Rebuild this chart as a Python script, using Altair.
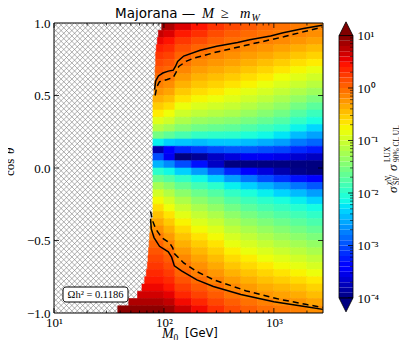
import numpy as np
import pandas as pd
import altair as alt

# ---------------- data ----------------
# cos(theta) row edges, top -> bottom (40 rows of 0.05)
row_edges = [round(1 - 0.05 * i, 2) for i in range(41)]

# left edge (log10 M0) of the filled region for each row, top -> bottom
row_xmin = [1.98, 1.95, 1.94, 1.93, 1.925, 1.925, 1.92, 1.92, 1.915, 1.91,
            1.9, 1.9, 1.9, 1.9, 1.9, 1.9, 1.9, 1.9, 1.9, 1.9,
            1.9, 1.9, 1.9, 1.9, 1.9, 1.9, 1.9, 1.88, 1.875, 1.87,
            1.865, 1.86, 1.855, 1.85, 1.84, 1.825, 1.8, 1.76, 1.68, 1.58]

# right edges (log10 M0) of the columns
col_right = [2.0, 2.1, 2.25, 2.4, 2.55, 2.7, 2.85, 3.0, 3.15, 3.3, 3.45]

# log10(sigma_SI / sigma_LUX) per column, rows top -> bottom
col_A = [0.9, 0.7, 0.52, 0.38, 0.26, 0.16, 0.07, -0.02, -0.12, -0.24, -0.38, -0.53, -0.7, -0.9, -1.15, -1.55, -2.2, -3.8, -3.0, -2.5,
         -2.0, -1.6, -1.25, -0.98, -0.78, -0.62, -0.48, -0.35, -0.22, -0.1, 0.02, 0.1, 0.18, 0.26, 0.34, 0.42, 0.52, 0.65, 0.8, 0.95]
col_B = [0.8, 0.6, 0.45, 0.32, 0.2, 0.1, 0.01, -0.09, -0.2, -0.32, -0.46, -0.62, -0.8, -1.0, -1.28, -1.68, -2.35, -3.4, -3.5, -2.7,
         -2.15, -1.75, -1.42, -1.17, -0.97, -0.8, -0.66, -0.52, -0.39, -0.27, -0.15, -0.04, 0.06, 0.15, 0.24, 0.33, 0.43, 0.56, 0.72, 0.88]
col_C = [0.6, 0.42, 0.26, 0.13, 0.03, -0.06, -0.16, -0.27, -0.39, -0.52, -0.66, -0.82, -1.0, -1.2, -1.45, -1.82, -2.4, -3.2, -4.0, -3.0,
         -2.35, -1.95, -1.65, -1.4, -1.2, -1.03, -0.88, -0.74, -0.61, -0.49, -0.38, -0.27, -0.17, -0.07, 0.02, 0.11, 0.22, 0.35, 0.5, 0.68]
col_D = [0.45, 0.3, 0.15, 0.02, -0.08, -0.18, -0.28, -0.39, -0.5, -0.62, -0.76, -0.92, -1.1, -1.32, -1.58, -1.95, -2.45, -3.1, -3.9, -3.3,
         -2.6, -2.15, -1.85, -1.6, -1.4, -1.22, -1.06, -0.92, -0.78, -0.65, -0.53, -0.42, -0.32, -0.22, -0.12, -0.02, 0.08, 0.2, 0.35, 0.5]
col_E = [0.28, 0.15, 0.04, -0.06, -0.15, -0.25, -0.35, -0.46, -0.57, -0.69, -0.82, -0.98, -1.16, -1.38, -1.63, -1.98, -2.4, -3.0, -3.7, -3.7,
         -2.9, -2.35, -2.0, -1.75, -1.55, -1.37, -1.2, -1.05, -0.91, -0.78, -0.66, -0.55, -0.45, -0.35, -0.25, -0.15, -0.04, 0.07, 0.18, 0.3]
col_F = [0.17, 0.06, -0.03, -0.12, -0.21, -0.31, -0.42, -0.53, -0.65, -0.78, -0.9, -1.05, -1.22, -1.43, -1.68, -2.0, -2.4, -2.95, -3.6, -4.0,
         -3.2, -2.6, -2.2, -1.95, -1.75, -1.56, -1.39, -1.24, -1.1, -0.96, -0.84, -0.72, -0.61, -0.5, -0.39, -0.28, -0.17, -0.06, 0.05, 0.15]
col_G = [0.08, -0.01, -0.08, -0.18, -0.28, -0.38, -0.5, -0.62, -0.74, -0.87, -1.0, -1.15, -1.33, -1.53, -1.77, -2.07, -2.45, -2.95, -3.5, -4.1,
         -3.4, -2.8, -2.35, -2.08, -1.88, -1.7, -1.53, -1.37, -1.22, -1.08, -0.95, -0.83, -0.71, -0.6, -0.49, -0.38, -0.27, -0.16, -0.05, 0.05]
col_H = [0.0, -0.06, -0.13, -0.23, -0.34, -0.46, -0.58, -0.7, -0.83, -0.96, -1.1, -1.26, -1.44, -1.64, -1.88, -2.15, -2.52, -3.0, -3.5, -4.2,
         -3.6, -3.0, -2.5, -2.2, -2.0, -1.82, -1.65, -1.49, -1.34, -1.2, -1.06, -0.93, -0.81, -0.69, -0.58, -0.47, -0.36, -0.25, -0.13, -0.03]
col_I = [-0.05, -0.1, -0.18, -0.3, -0.42, -0.54, -0.67, -0.8, -0.93, -1.07, -1.22, -1.38, -1.56, -1.76, -1.99, -2.25, -2.6, -3.05, -3.55, -4.2,
         -3.8, -3.15, -2.65, -2.33, -2.1, -1.92, -1.76, -1.6, -1.45, -1.31, -1.17, -1.03, -0.9, -0.78, -0.66, -0.54, -0.42, -0.31, -0.19, -0.08]
col_J = [-0.1, -0.15, -0.24, -0.37, -0.5, -0.63, -0.76, -0.89, -1.03, -1.19, -1.36, -1.55, -1.74, -1.95, -2.18, -2.45, -2.78, -3.18, -3.66, -4.2,
         -3.95, -3.3, -2.8, -2.45, -2.2, -2.02, -1.86, -1.7, -1.55, -1.4, -1.26, -1.12, -0.99, -0.86, -0.74, -0.61, -0.48, -0.36, -0.24, -0.13]
col_K = [-0.15, -0.2, -0.3, -0.44, -0.57, -0.7, -0.84, -0.98, -1.13, -1.3, -1.5, -1.7, -1.9, -2.1, -2.32, -2.58, -2.88, -3.25, -3.72, -4.2,
         -4.1, -3.45, -2.95, -2.6, -2.33, -2.13, -1.96, -1.8, -1.65, -1.5, -1.36, -1.22, -1.08, -0.95, -0.82, -0.69, -0.57, -0.45, -0.32, -0.2]
columns = [col_A, col_B, col_C, col_D, col_E, col_F, col_G, col_H, col_I, col_J, col_K]

# contour lines (log10 M0, cos theta)
up_solid_logM = [1.915, 1.925, 1.95, 1.99, 2.04, 2.085, 2.105, 2.125, 2.18, 2.33, 2.48, 2.67, 2.78, 2.97, 3.085, 3.27, 3.44]
up_solid_cos = [0.54, 0.60, 0.635, 0.655, 0.668, 0.675, 0.70, 0.735, 0.772, 0.812, 0.840, 0.865, 0.885, 0.91, 0.933, 0.962, 0.985]
up_dash_logM = [1.92, 1.935, 1.96, 2.03, 2.085, 2.11, 2.135, 2.20, 2.27, 2.48, 2.78, 3.09, 3.30, 3.44]
up_dash_cos = [0.50, 0.56, 0.595, 0.61, 0.625, 0.66, 0.70, 0.735, 0.757, 0.800, 0.852, 0.905, 0.945, 0.972]
lo_solid_logM = [1.878, 1.885, 1.91, 1.96, 2.04, 2.07, 2.095, 2.16, 2.30, 2.45, 2.70, 3.0, 3.28, 3.445]
lo_solid_cos = [-0.35, -0.42, -0.48, -0.54, -0.578, -0.615, -0.675, -0.71, -0.772, -0.817, -0.872, -0.922, -0.955, -0.975]
lo_dash_logM = [1.878, 1.90, 1.925, 1.98, 2.05, 2.08, 2.095, 2.18, 2.30, 2.45, 2.75, 3.05, 3.30, 3.445]
lo_dash_cos = [-0.30, -0.37, -0.42, -0.48, -0.515, -0.55, -0.59, -0.655, -0.715, -0.77, -0.848, -0.905, -0.942, -0.962]

# axes
x_domain = [10, 2800]
x_major = [10, 100, 1000]
x_major_labels = ["10¹", "10²", "10³"]
x_minor = [20, 30, 40, 50, 60, 70, 80, 90, 200, 300, 400, 500, 600, 700, 800, 900, 2000]
y_major = [-1.0, -0.5, 0.0, 0.5, 1.0]
cb_major = [1, 0, -1, -2, -3, -4]
cb_major_labels = ["10¹", "10⁰", "10⁻¹", "10⁻²", "10⁻³", "10⁻⁴"]

# jet colormap stops (log10 value -> colour)
jet_domain = [-4.0, -3.45, -3.375, -2.3, -2.25, -2.125, -0.8, -0.75, -0.7, 0.45, 0.55, 1.0]
jet_range = ["#000080", "#0000ff", "#0000ff", "#00dbff", "#00e6f7", "#15ffe2",
             "#efff08", "#f7f600", "#ffec00", "#ff1300", "#e80000", "#800000"]

# ---------------- tables ----------------
W, H = 269, 290

heat_rows = []
for i in range(40):
    for j in range(len(col_right)):
        lo = row_xmin[i] if j == 0 else col_right[j - 1]
        heat_rows.append(dict(M=10 ** lo, M2=10 ** col_right[j],
                              c=row_edges[i + 1], c2=row_edges[i], val=columns[j][i]))
heat_df = pd.DataFrame(heat_rows)

def line_df(lm, cs, name):
    return pd.DataFrame(dict(M=[10 ** v for v in lm], c=cs, line=name, o=range(len(cs))))

solid_df = pd.concat([line_df(up_solid_logM, up_solid_cos, "u"), line_df(lo_solid_logM, lo_solid_cos, "l")])
dash_df = pd.concat([line_df(up_dash_logM, up_dash_cos, "u"), line_df(lo_dash_logM, lo_dash_cos, "l")])

# hatch pattern (45 degree lines, ~5.4 px apart)
span = 2 * (H / 2) / 110.0  # decades covered by a 45 deg line from top to bottom
hatch_rows = []
for s in np.arange(-1.65, 2.1, 0.049):
    hatch_rows.append(dict(M=10 ** s, M2=10 ** (s + span), c=1.0, c2=-1.0))
    hatch_rows.append(dict(M=10 ** s, M2=10 ** (s + span), c=-1.0, c2=1.0))
hatch_df = pd.DataFrame(hatch_rows)

cb_lo = [round(-4 + 0.1 * k, 2) for k in range(50)]
cb_df = pd.DataFrame(dict(v=cb_lo, v2=[x + 0.1 for x in cb_lo], val=[x + 0.05 for x in cb_lo]))
cb_minor = [float(np.log10(k * 10.0 ** n)) for n in range(-4, 1) for k in range(2, 10)]

one = pd.DataFrame({"a": [0]})

# ---------------- scales / axes ----------------
xscale = alt.Scale(type="log", domain=x_domain, nice=False)
yscale = alt.Scale(domain=[-1, 1], nice=False, zero=False)
cscale = alt.Scale(domain=jet_domain, range=jet_range, clamp=True, interpolate="rgb")
cbscale = alt.Scale(domain=[-4, 1], range=[275, 12.5], nice=False, zero=False)

x_expr = " : ".join(f"datum.value == {v} ? '{l}'" for v, l in zip(x_major[:-1], x_major_labels[:-1])) + f" : '{x_major_labels[-1]}'"
cb_expr = " : ".join(f"datum.value == {v} ? '{l}'" for v, l in zip(cb_major[:-1], cb_major_labels[:-1])) + f" : '{cb_major_labels[-1]}'"

xaxis = alt.Axis(values=x_major, labelExpr=x_expr, ticks=False, domain=False, grid=False, title=None,
                 labelFont="Liberation Serif", labelFontSize=13, labelPadding=3, labelFlush=False, labelColor="black")
yaxis = alt.Axis(values=y_major, labelExpr="replace(format(datum.value, '.1f'), '-', '−')", ticks=False, domain=False,
                 grid=False, title=None, labelFont="Liberation Serif", labelFontSize=13, labelPadding=4,
                 labelFlush=False, labelColor="black")
cbaxis = alt.Axis(orient="right", offset=30, values=cb_major, labelExpr=cb_expr, ticks=False, domain=False, grid=False,
                  title=None, labelFont="Liberation Serif", labelFontSize=13, labelPadding=4, labelFlush=False,
                  labelColor="black")

X = alt.X("M:Q", scale=xscale, axis=xaxis)
Y = alt.Y("c:Q", scale=yscale, axis=yaxis)

# ---------------- main panel ----------------
hatch = alt.Chart(hatch_df).mark_rule(color="#7a7a7a", strokeWidth=0.6, clip=True).encode(
    x=X, x2="M2:Q", y=Y, y2="c2:Q")

heat = alt.Chart(heat_df).mark_rect(strokeWidth=0.6, clip=True).encode(
    x=X, x2="M2:Q", y=Y, y2="c2:Q",
    color=alt.Color("val:Q", scale=cscale, legend=None),
    stroke=alt.Stroke("val:Q", scale=cscale, legend=None))

solid = alt.Chart(solid_df).mark_line(color="black", strokeWidth=1.5, clip=True).encode(
    x=X, y=Y, detail="line:N", order="o:Q")
dashed = alt.Chart(dash_df).mark_line(color="black", strokeWidth=1.5, strokeDash=[6, 4], clip=True).encode(
    x=X, y=Y, detail="line:N", order="o:Q")

xmaj_df = pd.DataFrame({"M": x_major})
xmin_df = pd.DataFrame({"M": x_minor})
ymaj_df = pd.DataFrame({"c": y_major[1:-1]})
tk = dict(color="black", strokeWidth=0.8)
ticks = [
    alt.Chart(xmaj_df).mark_rule(**tk).encode(x=X, y=alt.value(H), y2=alt.value(H - 5)),
    alt.Chart(xmaj_df).mark_rule(**tk).encode(x=X, y=alt.value(0), y2=alt.value(5)),
    alt.Chart(xmin_df).mark_rule(**tk).encode(x=X, y=alt.value(H), y2=alt.value(H - 2.5)),
    alt.Chart(xmin_df).mark_rule(**tk).encode(x=X, y=alt.value(0), y2=alt.value(2.5)),
    alt.Chart(ymaj_df).mark_rule(**tk).encode(y=Y, x=alt.value(0), x2=alt.value(5)),
    alt.Chart(ymaj_df).mark_rule(**tk).encode(y=Y, x=alt.value(W), x2=alt.value(W - 5)),
]

frame = alt.Chart(one).mark_rect(fillOpacity=0, stroke="black", strokeWidth=1).encode(
    x=alt.value(0), x2=alt.value(W), y=alt.value(0), y2=alt.value(H))

box = alt.Chart(one).mark_rect(cornerRadius=3, fill="white", stroke="black", strokeWidth=1).encode(
    x=alt.value(9), x2=alt.value(74), y=alt.value(264), y2=alt.value(279))
boxtext = alt.Chart(one).mark_text(text="Ωh² = 0.1186", font="Liberation Serif", fontSize=10.5,
                                   align="center", baseline="middle", color="black").encode(
    x=alt.value(41.5), y=alt.value(271.5))

main = alt.layer(hatch, heat, solid, dashed, *ticks, frame, box, boxtext)

# ---------------- colour bar ----------------
CBY = alt.Y("v:Q", scale=cbscale, axis=cbaxis)
cb_bar = alt.Chart(cb_df).mark_rect().encode(
    y=CBY, y2="v2:Q", x=alt.value(285), x2=alt.value(299),
    color=alt.Color("val:Q", scale=cscale, legend=None))
cb_frame = alt.Chart(pd.DataFrame({"v": [-4], "v2": [1]})).mark_rect(fillOpacity=0, stroke="black", strokeWidth=0.8).encode(
    y=CBY, y2="v2:Q", x=alt.value(285), x2=alt.value(299))
tri_up = alt.Chart(pd.DataFrame({"v": [1.129], "val": [1.129]})).mark_point(
    shape="M -1 1 L 0 -1 L 1 1 Z", size=190, filled=True, opacity=1, stroke="black", strokeWidth=0.8).encode(
    y=CBY, x=alt.value(292), color=alt.Color("val:Q", scale=cscale, legend=None))
tri_dn = alt.Chart(pd.DataFrame({"v": [-4.133], "val": [-4.133]})).mark_point(
    shape="M -1 -1 L 0 1 L 1 -1 Z", size=190, filled=True, opacity=1, stroke="black", strokeWidth=0.8).encode(
    y=CBY, x=alt.value(292), color=alt.Color("val:Q", scale=cscale, legend=None))
cb_tmin = alt.Chart(pd.DataFrame({"v": cb_minor})).mark_rule(color="black", strokeWidth=0.6).encode(
    y=CBY, x=alt.value(296), x2=alt.value(299))
cb_tmaj = alt.Chart(pd.DataFrame({"v": cb_major})).mark_rule(color="black", strokeWidth=0.8).encode(
    y=CBY, x=alt.value(294), x2=alt.value(299))

cbar = alt.layer(cb_bar, cb_tmin, cb_tmaj, cb_frame, tri_up, tri_dn)

# ---------------- texts ----------------
def txt(s, x, y, size, font="Liberation Serif", style="normal", angle=0, align="left"):
    return alt.Chart(one).mark_text(text=s, font=font, fontSize=size, fontStyle=style, angle=angle,
                                    align=align, baseline="middle", color="black").encode(
        x=alt.value(x), y=alt.value(y))

texts = [
    txt("Majorana —", 61, -9, 13.5, font="DejaVu Sans"),
    txt("M", 148, -9, 14.5, style="italic"),
    txt("≥", 167, -9, 14.5),
    txt("m", 186, -9, 14.5, style="italic"),
    txt("W", 197.5, -5, 10, style="italic"),
    txt("M", 108, 311, 14, style="italic"),
    txt("0", 119.5, 314.5, 9.5),
    txt("[GeV]", 131, 311, 11.5, font="DejaVu Sans"),
    txt("cos", -44, 153, 13, angle=270, align="left"),
    txt("θ", -44, 131, 13, style="italic", angle=270, align="left"),
    txt("σ", 339, 170, 13, style="italic", angle=270),
    txt("χN", 334.5, 162, 8, style="italic", angle=270),
    txt("SI", 343, 162, 8, angle=270),
    txt("/", 339, 155, 12, angle=270),
    txt("σ", 339, 148, 13, style="italic", angle=270),
    txt("LUX", 334, 139, 7.5, angle=270),
    txt("90% CL UL", 343, 139, 7.5, angle=270),
]

chart = alt.layer(main, cbar, *texts).resolve_scale(y="independent").properties(
    width=W, height=H,
    padding={"left": 46, "top": 15, "right": 76, "bottom": 27},
    autosize=alt.AutoSizeParams(type="none"),
    background="white",
).configure_view(stroke=None)

chart.save("out.html", embed_options={"renderer": "svg", "actions": False})
